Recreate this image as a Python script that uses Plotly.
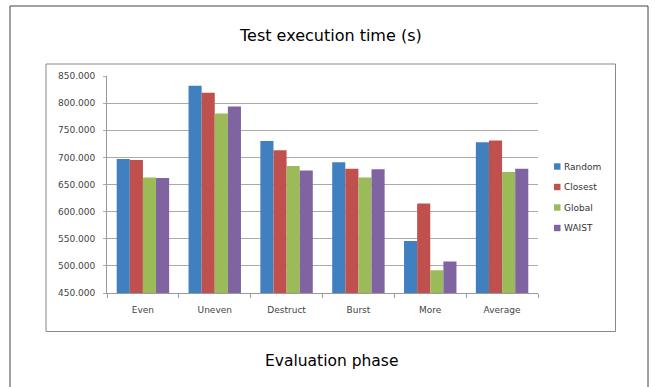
import plotly.graph_objects as go

categories = ["Even", "Uneven", "Destruct", "Burst", "More", "Average"]
random_vals = [697, 832, 730, 691, 546, 728]
closest_vals = [695, 819, 713, 679, 615, 731]
global_vals = [663, 781, 684, 663, 492, 673]
waist_vals = [662, 794, 676, 678, 508, 679]
series_names = ["Random", "Closest", "Global", "WAIST"]
tick_vals = [450, 500, 550, 600, 650, 700, 750, 800, 850]
tick_text = ["450.000", "500.000", "550.000", "600.000", "650.000", "700.000", "750.000", "800.000", "850.000"]

colors = ["#4080C0", "#C0504D", "#9BBB59", "#8064A2"]
series = [random_vals, closest_vals, global_vals, waist_vals]

fig = go.Figure()
for name, vals, col in zip(series_names, series, colors):
    fig.add_trace(go.Bar(x=categories, y=vals, name=name, marker_color=col,
                         marker_line_width=0, showlegend=False))

font_family = "DejaVu Sans"
# plot area in px: x 107..538, y 76..293
def px_x(p):
    return (p - 107) / 431.0

def px_y(p):
    return (293 - p) / 217.0

legend_y = [166.5, 187, 207.5, 228]
shapes = [
    dict(type="rect", xref="paper", yref="paper",
         x0=px_x(10), x1=px_x(648), y0=px_y(400), y1=px_y(6),
         line=dict(color="#444444", width=1), fillcolor="rgba(0,0,0,0)", layer="below"),
    dict(type="rect", xref="paper", yref="paper",
         x0=px_x(46), x1=px_x(615.5), y0=px_y(331.5), y1=px_y(64),
         line=dict(color="#888888", width=1), fillcolor="rgba(0,0,0,0)", layer="below"),
]
annotations = [
    dict(text="Test execution time (s)", x=px_x(330), xref="paper", y=px_y(36), yref="paper",
         showarrow=False, xanchor="center", yanchor="middle",
         font=dict(family=font_family, size=16, color="#000000")),
    dict(text="Evaluation phase", x=px_x(331), xref="paper", y=px_y(361), yref="paper",
         showarrow=False, xanchor="center", yanchor="middle",
         font=dict(family=font_family, size=15.5, color="#000000")),
]
for name, col, yy in zip(series_names, colors, legend_y):
    shapes.append(dict(type="rect", xref="paper", yref="paper",
                       x0=px_x(554), x1=px_x(560.5), y0=px_y(yy + 3.2), y1=px_y(yy - 3.2),
                       line=dict(width=0), fillcolor=col))
    annotations.append(dict(text=name, x=px_x(562), xref="paper", y=px_y(yy), yref="paper",
                            showarrow=False, xanchor="left", yanchor="middle",
                            font=dict(family=font_family, size=9, color="#333333")))

fig.update_layout(
    width=655, height=387,
    margin=dict(l=107, r=117, t=76, b=94, autoexpand=False),
    paper_bgcolor="white", plot_bgcolor="white",
    barmode="group", bargap=0.27, bargroupgap=0,
    showlegend=False,
    font=dict(family=font_family, color="#333333"),
    xaxis=dict(showline=True, linecolor="#999999", linewidth=1,
               ticks="outside", tickson="boundaries", ticklen=4, tickcolor="#999999",
               tickfont=dict(size=9, color="#444444"), showgrid=False,
               ticklabelstandoff=8),
    yaxis=dict(range=[450, 850], tickvals=tick_vals, ticktext=tick_text,
               showline=True, linecolor="#999999", linewidth=1,
               ticks="outside", ticklen=3, tickcolor="#aaaaaa",
               gridcolor="#aaaaaa", gridwidth=1, zeroline=False,
               tickfont=dict(size=9, color="#444444"), ticklabelstandoff=6),
    annotations=annotations,
    shapes=shapes,
)

fig.write_html("out.html", config={"displayModeBar": False},
               post_script="document.body.style.margin='0px';document.body.style.overflow='hidden';")
